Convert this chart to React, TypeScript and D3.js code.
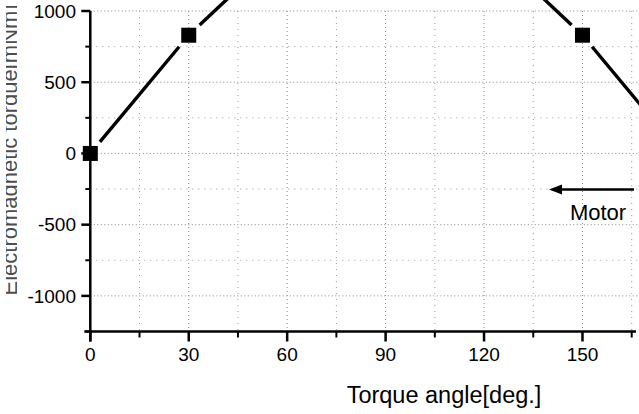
import React from "react";
import * as d3 from "d3";

const angles = [0, 30, 60, 90, 120, 150, 180];
const torque = [0, 830, 1480, 1680, 1480, 830, 0];
const xMajorTicks = [0, 30, 60, 90, 120, 150];
const xMinorTicks = [15, 45, 75, 105, 135, 165];
const yMajorTicks = [-1000, -500, 0, 500, 1000];
const yMinorTicks = [-1250, -750, -250, 250, 750];
const xTitle = "Torque angle[deg.]";
const yTitle = "Electromagnetic torque[mNm]";
const annotation = "Motor";

const W = 639;
const H = 414;

export default function App() {
  const x = d3.scaleLinear().domain([0, 165]).range([90.3, 631.7]);
  const y = d3.scaleLinear().domain([-1250, 1000]).range([331.5, 11]);
  const font = "'Liberation Sans', Arial, sans-serif";
  const gap = 15;

  const pts = angles.map((a, i) => [x(a), y(torque[i])] as [number, number]);
  const line = d3.line();
  const segs: string[] = [];
  for (let i = 0; i < pts.length - 1; i++) {
    const [x0, y0] = pts[i];
    const [x1, y1] = pts[i + 1];
    const len = Math.hypot(x1 - x0, y1 - y0);
    const ux = (x1 - x0) / len;
    const uy = (y1 - y0) / len;
    segs.push(
      line([
        [x0 + ux * gap, y0 + uy * gap],
        [x1 - ux * gap, y1 - uy * gap],
      ]) as string
    );
  }

  const top = y(1000);
  const bottom = y(-1250);
  const left = x(0);

  return (
    <svg
      width={W}
      height={H}
      style={{ position: "absolute", left: 0, top: 0, background: "#fff" }}
    >
      <defs>
        <clipPath id="ytitleclip">
          <rect x={6} y={0} width={11} height={H} />
        </clipPath>
      </defs>
      <rect x={0} y={0} width={W} height={H} fill="#fff" />

      {/* grid */}
      {yMinorTicks.filter((t) => t > -1250).map((t) => (
        <line key={"ym" + t} x1={left} x2={W} y1={y(t)} y2={y(t)} stroke="#999" strokeWidth={1} strokeDasharray="1,5" />
      ))}
      {yMajorTicks.map((t) => (
        <line key={"yg" + t} x1={left} x2={W} y1={y(t)} y2={y(t)} stroke="#888" strokeWidth={1} strokeDasharray="1,2.5" />
      ))}
      {xMinorTicks.map((t) => (
        <line key={"xm" + t} x1={x(t)} x2={x(t)} y1={top} y2={bottom} stroke="#999" strokeWidth={1} strokeDasharray="1,5" />
      ))}
      {xMajorTicks.filter((t) => t > 0).map((t) => (
        <line key={"xg" + t} x1={x(t)} x2={x(t)} y1={top} y2={bottom} stroke="#888" strokeWidth={1} strokeDasharray="1,3" />
      ))}

      {/* data line */}
      {segs.map((d, i) => (
        <path key={"s" + i} d={d} stroke="#000" strokeWidth={3.4} fill="none" />
      ))}
      {pts.map(([px, py], i) => (
        <rect key={"m" + i} x={px - 7.5} y={py - 7.5} width={15} height={15} fill="#000" />
      ))}

      {/* axes */}
      <line x1={left} x2={left} y1={top} y2={bottom + 10} stroke="#000" strokeWidth={2.5} />
      <line x1={left - 6} x2={636} y1={bottom} y2={bottom} stroke="#000" strokeWidth={2.5} />
      {yMajorTicks.map((t) => (
        <g key={"yt" + t}>
          <line x1={left - 9} x2={left} y1={y(t)} y2={y(t)} stroke="#000" strokeWidth={2.5} />
          <text x={76} y={y(t)} dy="0.35em" textAnchor="end" fontFamily={font} fontSize={19} fill="#000">
            {t}
          </text>
        </g>
      ))}
      {yMinorTicks.map((t) => (
        <line key={"ymt" + t} x1={left - 5} x2={left} y1={y(t)} y2={y(t)} stroke="#000" strokeWidth={2} />
      ))}
      {xMajorTicks.map((t) => (
        <g key={"xt" + t}>
          <line x1={x(t)} x2={x(t)} y1={bottom} y2={bottom + 10} stroke="#000" strokeWidth={2.5} />
          <text x={x(t)} y={bottom + 23} dy="0.35em" textAnchor="middle" fontFamily={font} fontSize={19} fill="#000">
            {t}
          </text>
        </g>
      ))}
      {xMinorTicks.map((t) => (
        <line key={"xmt" + t} x1={x(t)} x2={x(t)} y1={bottom} y2={bottom + 6} stroke="#000" strokeWidth={2} />
      ))}

      <text x={444} y={403} textAnchor="middle" fontFamily={font} fontSize={23.5} fill="#000">
        {xTitle}
      </text>

      {/* y title, cut off at the left edge as in the reference */}
      <g clipPath="url(#ytitleclip)">
        <text
          transform={`translate(17,150) rotate(-90)`}
          textAnchor="middle"
          fontFamily={font}
          fontSize={22}
          fill="#222"
          opacity={0.8}
        >
          {yTitle}
        </text>
      </g>

      {/* annotation arrow */}
      <line x1={558} x2={634} y1={189.5} y2={189.5} stroke="#000" strokeWidth={2.5} />
      <path d="M549,189.5 L562,184.5 L562,194.5 Z" fill="#000" />
      <text x={598} y={220} textAnchor="middle" fontFamily={font} fontSize={22} fill="#000">
        {annotation}
      </text>
    </svg>
  );
}
